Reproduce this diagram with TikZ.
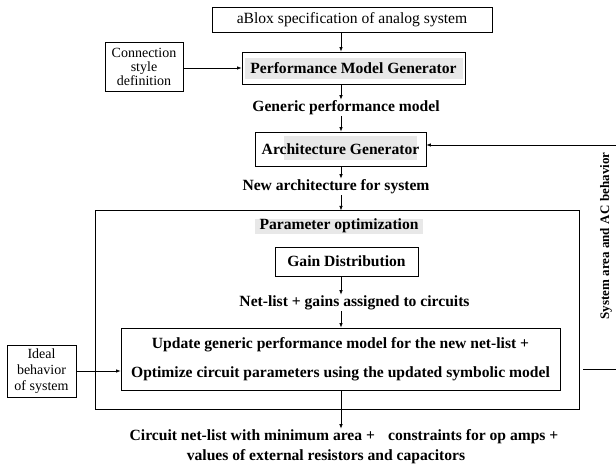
\documentclass[tikz,border=0pt]{standalone}
\usepackage{fontspec}
\setmainfont{Liberation Serif}
\usetikzlibrary{arrows.meta}
\begin{document}
\begin{tikzpicture}[x=1pt,y=-1pt,
  box/.style={draw, line width=0.85pt, inner sep=0pt, font=\bfseries\fontsize{15.6}{18}\selectfont},
  sidebox/.style={draw, line width=0.8pt, inner sep=0pt, align=center},
  lbl/.style={inner sep=1pt, font=\bfseries\fontsize{15.6}{18}\selectfont},
  arr/.style={line width=0.7pt, -{Latex[length=4.5pt,width=3.5pt]}},
  hl/.style={fill=black!9}]
\useasboundingbox (0,0) rectangle (616,470);
% highlights behind titles
\fill[hl] (245,58) rectangle (463,79);
\fill[hl] (284,136) rectangle (417,160);
\fill[hl] (255,219) rectangle (423,234);

\coordinate (sx) at (341,0);

\node[box, font=\fontsize{15.6}{18}\selectfont, minimum width=280pt, minimum height=25pt] (top) at (352,19.5) {aBlox specification of analog system};
\node[box, minimum width=223pt, minimum height=32pt] (pmg) at (353.5,68) {Performance Model Generator};
\node[sidebox, font=\fontsize{14}{14}\selectfont, minimum width=78pt, minimum height=49pt] (csd) at (144,66.5) {Connection\\style\\definition};
\node[lbl] (gpm) at (346,108) {Generic performance model};
\node[box, minimum width=171pt, minimum height=34pt] (arch) at (340.5,149) {Architecture Generator};
\node[lbl] (nas) at (336,187) {New architecture for system};
\node[draw, line width=1pt, minimum width=484pt, minimum height=198pt, inner sep=0pt] (pbox) at (337,310) {};
\node[lbl] (po) at (339,226) {Parameter optimization};
\node[box, minimum width=143pt, minimum height=29pt] (gd) at (346.5,261.5) {Gain Distribution};
\node[lbl] (nl) at (354.5,303) {Net-list + gains assigned to circuits};
\node[box, align=center, font=\bfseries\fontsize{15.6}{29}\selectfont, minimum width=439pt, minimum height=62pt] (upd) at (340.5,359) {Update generic performance model for the new net-list +\\Optimize circuit parameters using the updated symbolic model};
\node[sidebox, font=\fontsize{14}{16}\selectfont, minimum width=69pt, minimum height=52pt] (ideal) at (41.5,371) {Ideal\\behavior\\of system};
\node[lbl] (out1) at (344,437) {Circuit net-list with minimum area +\hspace{0.6em} constraints for op amps +};
\node[lbl] (out2) at (326,457) {values of external resistors and capacitors};
\node[inner sep=0pt, rotate=90, font=\bfseries\fontsize{13}{15}\selectfont] (sys) at (606,236) {System area and A\kern1pt C behavior};

% main flow
\draw[arr] (top.south -| sx) -- (pmg.north -| sx);
\draw[arr] (pmg.south -| sx) -- (gpm.north -| sx);
\draw[arr] (gpm.south -| sx) -- (arch.north -| sx);
\draw[arr] (arch.south -| sx) -- (nas.north -| sx);
\draw[arr] (nas.south -| sx) -- (pbox.north -| sx);
\draw[arr] (gd.south -| sx) -- (nl.north -| sx);
\draw[arr] (nl.south -| sx) -- (upd.north -| sx);
\draw[arr] (upd.south -| sx) -- (out1.north -| sx);
% side inputs
\draw[arr] (csd.east |- pmg.west) -- (pmg.west);
\draw[arr] (ideal.east) -- (ideal.east -| upd.west);
% feedback
\coordinate (fb1) at (583,369);
\coordinate (fb2) at (619,369);
\coordinate (fb3) at (619,145);
\draw[arr] (fb1) -- (fb2) -- (fb3) -- (fb3 -| arch.east);
\end{tikzpicture}
\end{document}
